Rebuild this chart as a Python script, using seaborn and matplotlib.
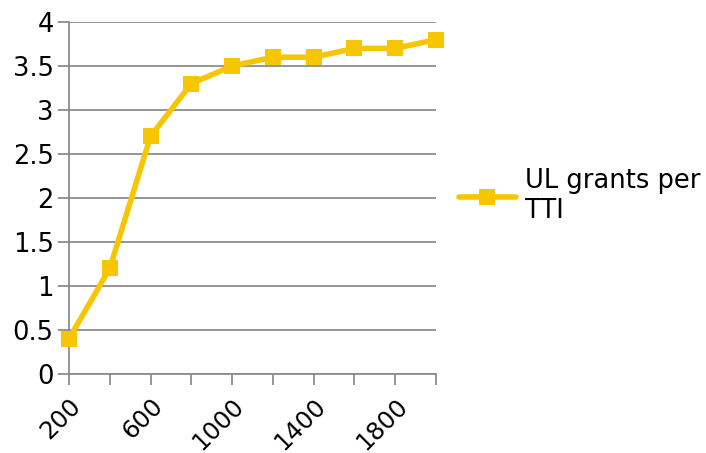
import matplotlib
matplotlib.use("Agg")
import matplotlib.pyplot as plt
import seaborn as sns
import pandas as pd

# Offered load (x) and measured uplink grants per TTI (y)
load = [200, 400, 600, 800, 1000, 1200, 1400, 1600, 1800, 2000]
grants = [0.4, 1.2, 2.7, 3.3, 3.5, 3.6, 3.6, 3.7, 3.7, 3.8]
y_ticks = [0, 0.5, 1, 1.5, 2, 2.5, 3, 3.5, 4]
y_labels = ["0", "0.5", "1", "1.5", "2", "2.5", "3", "3.5", "4"]
x_labels = ["200", "", "600", "", "1000", "", "1400", "", "1800", ""]
series_name = "UL grants per\nTTI"

sns.set_theme(style="white")
plt.rcParams["font.family"] = ["DejaVu Sans"]
plt.rcParams["text.color"] = "black"

df = pd.DataFrame({"load": load, "grants": grants, "series": series_name})

fig = plt.figure(figsize=(7.06, 4.53), dpi=100)
ax = fig.add_axes([0.0977, 0.1744, 0.5199, 0.777])

gold = "#F7C600"
grid_gray = "#8C8C8C"
fs = 18.5

sns.lineplot(data=df, x="load", y="grants", hue="series", palette=[gold],
             marker="s", markersize=12, markeredgewidth=0, linewidth=4,
             ax=ax, clip_on=False, zorder=3)

ax.set_xlim(200, 2000)
ax.set_ylim(0, 4)
ax.set_yticks(y_ticks)
ax.set_yticklabels(y_labels, fontsize=fs)
ax.set_xticks(load)
ax.set_xticklabels(x_labels, fontsize=17.5, rotation=45, ha="right",
                   rotation_mode="anchor")
ax.set_xlabel("")
ax.set_ylabel("")

ax.yaxis.grid(True, color=grid_gray, linewidth=1.3)
ax.xaxis.grid(False)
for side in ["top", "right"]:
    ax.spines[side].set_visible(False)
for side in ["left", "bottom"]:
    ax.spines[side].set_color(grid_gray)
    ax.spines[side].set_linewidth(1.3)
ax.tick_params(axis="both", which="major", length=8, width=1.3,
               color=grid_gray, labelcolor="black", direction="out",
               bottom=True, left=True)
ax.tick_params(axis="y", pad=3)
ax.tick_params(axis="x", pad=6)

handles, labels = ax.get_legend_handles_labels()
leg = ax.legend(handles, labels, loc="center left", bbox_to_anchor=(1.035, 0.505),
                frameon=False, fontsize=fs, handlelength=2.2,
                handletextpad=0.35, borderaxespad=0, labelcolor="black")

fig.savefig("out.png", dpi=100)
